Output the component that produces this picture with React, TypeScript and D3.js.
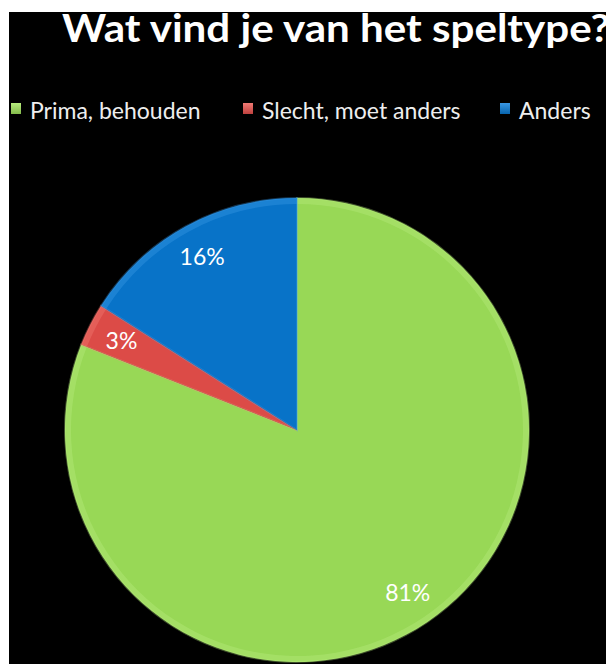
import React from 'react';
import * as d3 from 'd3';

const categories = ['Prima, behouden', 'Slecht, moet anders', 'Anders'];
const values = [81, 3, 16];
const labels = ['81%', '3%', '16%'];
const colors = ['#98D856', '#DC4B47', '#0873C8'];
const edgeColors = ['#B7EC7E', '#F07A74', '#3A98E4'];

const W = 613;
const H = 664;
const cx = 297;
const cy = 430;
const r = 232;
const font = 'Lato, "Open Sans", sans-serif';

export default function App() {
  const pie = d3.pie<number>().sort(null).value(d => d)(values);
  const arc = d3.arc<d3.PieArcDatum<number>>().innerRadius(0).outerRadius(r);
  const rim = d3.arc<d3.PieArcDatum<number>>().innerRadius(r - 6).outerRadius(r);
  const labelArc = d3.arc<d3.PieArcDatum<number>>().innerRadius(197).outerRadius(197);

  const legendX = [11, 243, 500];

  return (
    <svg
      width={W}
      height={H}
      style={{ position: 'absolute', left: 0, top: 0, display: 'block' }}
    >
      <defs>
        {colors.map((c, i) => (
          <linearGradient key={i} id={`leg${i}`} x1="0" y1="0" x2="0" y2="1">
            <stop offset="0" stopColor={edgeColors[i]} />
            <stop offset="1" stopColor={d3.color(c)!.darker(0.4).toString()} />
          </linearGradient>
        ))}
      </defs>
      <rect x={0} y={0} width={W} height={H} fill="#fff" />
      <rect x={9} y={12} width={597} height={H - 12} fill="#000" />

      <text
        x={62}
        y={42}
        fill="#fff"
        fontFamily={font}
        fontWeight="bold"
        fontSize={39}
        textLength={548}
        lengthAdjust="spacingAndGlyphs"
      >
        Wat vind je van het speltype?
      </text>

      {categories.map((c, i) => (
        <g key={c} transform={`translate(${legendX[i]},103)`}>
          <rect width={10} height={11} fill={`url(#leg${i})`} />
          <text x={19} y={16} fill="#eee" fontFamily={font} fontSize={23}>
            {c}
          </text>
        </g>
      ))}

      <g transform={`translate(${cx},${cy})`}>
        {pie.map((d, i) => (
          <g key={i}>
            <path d={arc(d) || ''} fill={colors[i]} />
            <path d={rim(d) || ''} fill={edgeColors[i]} opacity={0.4} />
            <path
              d={arc(d) || ''}
              fill="none"
              stroke={edgeColors[i]}
              strokeWidth={2}
              strokeOpacity={0.35}
            />
          </g>
        ))}
        {pie.map((d, i) => {
          const [x, y] = labelArc.centroid(d);
          return (
            <text
              key={i}
              x={x}
              y={y}
              dy="0.35em"
              textAnchor="middle"
              fill="#fff"
              fontFamily={font}
              fontSize={23}
            >
              {labels[i]}
            </text>
          );
        })}
      </g>
    </svg>
  );
}
